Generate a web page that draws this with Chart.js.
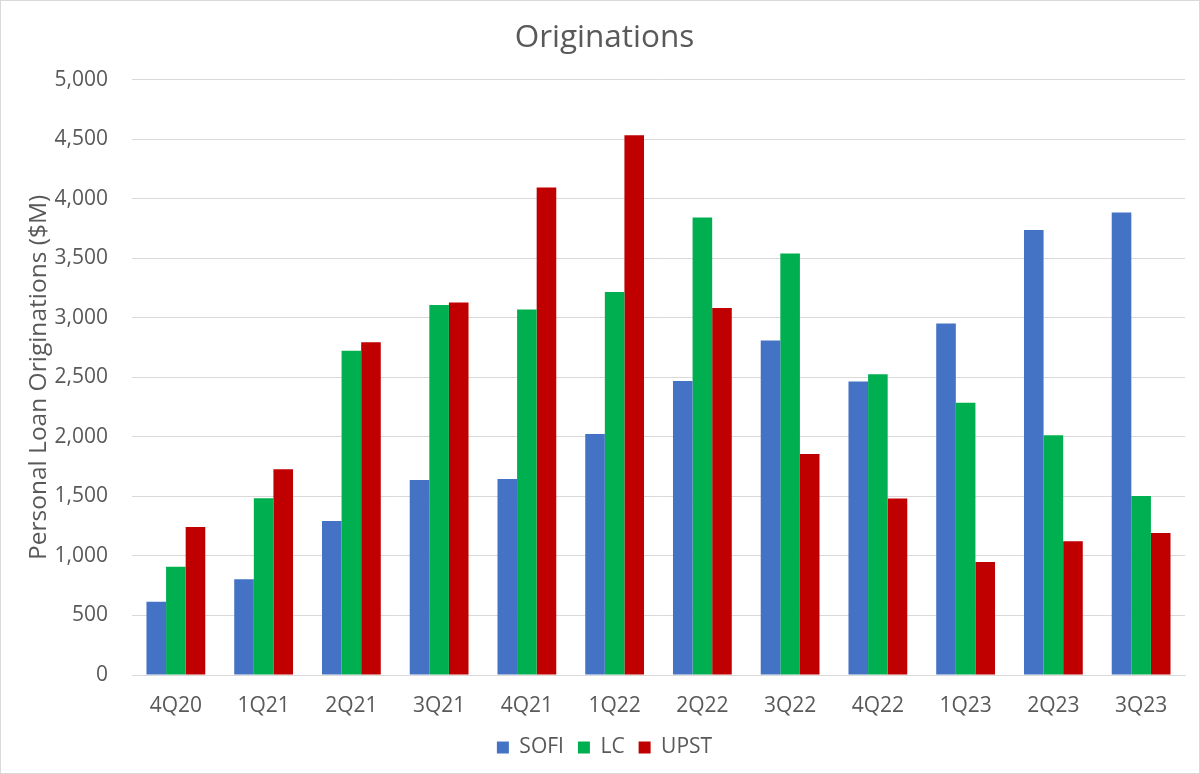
<!DOCTYPE html>
<html>
<head>
<meta charset="utf-8">
<script src="https://cdn.jsdelivr.net/npm/chart.js@4.4.1/dist/chart.umd.min.js"></script>
<style>
  html, body { margin: 0; padding: 0; background: #fff; }
  #wrap { width: 1200px; height: 774px; }
</style>
</head>
<body>
<div id="wrap"><canvas id="chart"></canvas></div>
<script>
const quarters = ["4Q20", "1Q21", "2Q21", "3Q21", "4Q21", "1Q22", "2Q22", "3Q22", "4Q22", "1Q23", "2Q23", "3Q23"];
const sofi = [616, 804, 1294, 1639, 1647, 2025, 2470, 2809, 2465, 2952, 3739, 3885];
const lc = [910, 1485, 2723, 3109, 3070, 3218, 3843, 3540, 2527, 2288, 2014, 1504];
const upst = [1244, 1728, 2795, 3129, 4095, 4535, 3084, 1857, 1482, 950, 1123, 1193];

const FONT = "'Open Sans', sans-serif";
const GREY = "#595959";

// white background + thin frame like the Excel chart
const frame = {
  id: "frame",
  beforeDraw(chart) {
    const c = chart.ctx;
    c.save();
    c.fillStyle = "#fff";
    c.fillRect(0, 0, chart.width, chart.height);
    c.strokeStyle = "#d9d9d9";
    c.lineWidth = 1;
    c.strokeRect(0.5, 0.5, chart.width - 1, chart.height - 1);
    c.restore();
  }
};

const ctx = document.getElementById("chart").getContext("2d");
new Chart(ctx, {
  type: "bar",
  data: {
    labels: quarters,
    datasets: [
      { label: "SOFI", data: sofi, backgroundColor: "#4472C4" },
      { label: "LC", data: lc, backgroundColor: "#00B050" },
      { label: "UPST", data: upst, backgroundColor: "#C00000" },
    ],
  },
  options: {
    responsive: true,
    maintainAspectRatio: false,
    animation: false,
    datasets: { bar: { barPercentage: 1.0, categoryPercentage: 0.67 } },
    layout: { padding: { left: 24, right: 15, top: 0, bottom: 6 } },
    plugins: {
      title: {
        display: true,
        text: "Originations",
        color: GREY,
        font: { family: FONT, size: 31.5, weight: "normal" },
        padding: { top: 19, bottom: 23 },
      },
      legend: {
        position: "bottom",
        labels: {
          color: GREY,
          font: { family: FONT, size: 21 },
          boxWidth: 12,
          boxHeight: 12,
          padding: 14,
        },
      },
      tooltip: { enabled: false },
    },
    scales: {
      x: {
        grid: { display: false, drawTicks: false },
        border: { display: true, color: "#d9d9d9" },
        ticks: { color: GREY, font: { family: FONT, size: 21 }, padding: 18 },
        afterFit: (scale) => { scale.height = 48; },
      },
      y: {
        min: 0,
        max: 5000,
        grid: { color: "#d9d9d9", drawTicks: false },
        border: { display: false },
        ticks: {
          stepSize: 500,
          color: GREY,
          padding: 24,
          font: { family: FONT, size: 21 },
          callback: (v) => v.toLocaleString("en-US"),
        },
        title: {
          display: true,
          text: "Personal Loan Originations ($M)",
          color: GREY,
          font: { family: FONT, size: 24.5 },
          padding: 0,
        },
        afterFit: (scale) => { scale.width = 108; },
      },
    },
  },
  plugins: [frame],
});
</script>
</body>
</html>
